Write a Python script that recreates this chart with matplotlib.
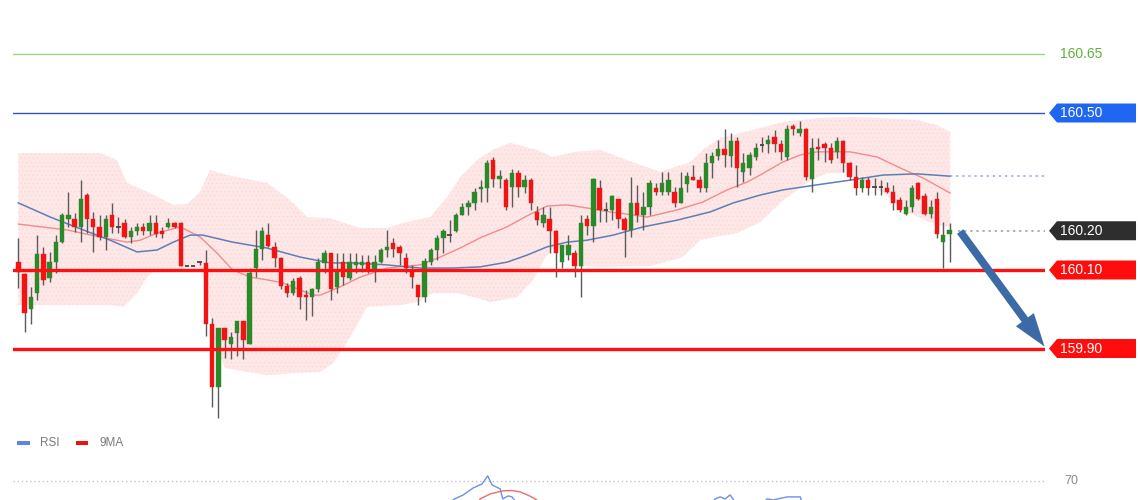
import numpy as np
import matplotlib.pyplot as plt
from matplotlib.patches import Polygon, Rectangle
from matplotlib.transforms import blended_transform_factory

### ======================================================================
### Candle data (one entry per candle)
### ======================================================================

opens = [160.120, 160.090, 160.000, 160.041, 160.141, 160.080, 160.120, 160.171, 160.230, 160.230,
         160.210, 160.291, 160.230, 160.210, 160.184, 160.240, 160.210, 160.220, 160.184, 160.200,
         160.210, 160.200, 160.220, 160.200, 160.210, 160.220, 160.220, 160.110, 160.110, 160.120,
         160.118, 159.962, 159.802, 159.952, 159.911, 159.939, 159.970, 159.911, 160.105, 160.154,
         160.189, 160.159, 160.131, 160.059, 160.041, 160.080, 160.036, 160.031, 160.052, 160.118,
         160.143, 160.057, 160.120, 160.080, 160.113, 160.113, 160.120, 160.100, 160.120, 160.151,
         160.169, 160.159, 160.131, 160.100, 160.062, 160.031, 160.120, 160.151, 160.182, 160.189,
         160.200, 160.240, 160.261, 160.271, 160.307, 160.309, 160.381, 160.332, 160.330, 160.312,
         160.347, 160.312, 160.330, 160.248, 160.220, 160.230, 160.200, 160.120, 160.138, 160.143,
         160.110, 160.230, 160.212, 160.309, 160.253, 160.253, 160.281, 160.230, 160.202, 160.271,
         160.240, 160.261, 160.309, 160.299, 160.299, 160.299, 160.271, 160.319, 160.337, 160.330,
         160.309, 160.373, 160.391, 160.409, 160.391, 160.429, 160.350, 160.360, 160.388, 160.416,
         160.421, 160.439, 160.421, 160.388, 160.467, 160.450, 160.460, 160.332, 160.414, 160.421,
         160.411, 160.401, 160.429, 160.373, 160.337, 160.309, 160.330, 160.312, 160.312, 160.309,
         160.299, 160.279, 160.243, 160.261, 160.322, 160.289, 160.243, 160.281, 160.171, 160.192]
highs = [160.182, 160.092, 160.057, 160.189, 160.159, 160.146, 160.189, 160.245, 160.299, 160.245,
         160.330, 160.296, 160.248, 160.240, 160.240, 160.271, 160.235, 160.230, 160.210, 160.220,
         160.220, 160.240, 160.240, 160.210, 160.233, 160.222, 160.222, 160.110, 160.110, 160.121,
         160.151, 159.978, 159.952, 159.952, 159.942, 159.970, 159.970, 160.105, 160.202, 160.210,
         160.220, 160.171, 160.133, 160.067, 160.080, 160.085, 160.049, 160.054, 160.131, 160.151,
         160.143, 160.143, 160.143, 160.143, 160.143, 160.138, 160.138, 160.138, 160.156, 160.202,
         160.182, 160.164, 160.143, 160.113, 160.062, 160.131, 160.156, 160.189, 160.205, 160.228,
         160.245, 160.271, 160.279, 160.309, 160.330, 160.381, 160.388, 160.355, 160.335, 160.358,
         160.355, 160.342, 160.335, 160.263, 160.261, 160.261, 160.202, 160.164, 160.189, 160.151,
         160.240, 160.240, 160.335, 160.330, 160.273, 160.291, 160.281, 160.235, 160.337, 160.317,
         160.299, 160.330, 160.322, 160.350, 160.350, 160.312, 160.350, 160.350, 160.368, 160.340,
         160.398, 160.401, 160.432, 160.460, 160.450, 160.439, 160.398, 160.401, 160.424, 160.439,
         160.444, 160.457, 160.432, 160.470, 160.472, 160.480, 160.462, 160.437, 160.437, 160.427,
         160.424, 160.439, 160.432, 160.376, 160.368, 160.337, 160.337, 160.335, 160.330, 160.324,
         160.317, 160.286, 160.279, 160.317, 160.324, 160.296, 160.279, 160.299, 160.222, 160.220]
lows = [160.054, 159.942, 159.962, 160.023, 160.062, 160.069, 160.092, 160.169, 160.210, 160.197,
        160.171, 160.194, 160.146, 160.177, 160.151, 160.194, 160.194, 160.182, 160.169, 160.189,
        160.189, 160.189, 160.184, 160.182, 160.207, 160.207, 160.110, 160.110, 160.110, 160.112,
        159.932, 159.751, 159.722, 159.876, 159.873, 159.881, 159.873, 159.911, 160.082, 160.126,
        160.159, 160.108, 160.052, 160.031, 160.036, 160.000, 159.972, 159.983, 160.044, 160.092,
        160.023, 160.041, 160.062, 160.074, 160.092, 160.095, 160.092, 160.069, 160.118, 160.133,
        160.133, 160.113, 160.092, 160.054, 160.011, 160.018, 160.113, 160.126, 160.143, 160.171,
        160.197, 160.240, 160.240, 160.253, 160.273, 160.273, 160.312, 160.309, 160.253, 160.261,
        160.286, 160.296, 160.253, 160.215, 160.210, 160.143, 160.082, 160.105, 160.126, 160.082,
        160.031, 160.189, 160.171, 160.222, 160.222, 160.228, 160.207, 160.133, 160.184, 160.222,
        160.202, 160.240, 160.291, 160.291, 160.291, 160.261, 160.271, 160.299, 160.330, 160.299,
        160.299, 160.335, 160.381, 160.363, 160.363, 160.312, 160.324, 160.342, 160.381, 160.401,
        160.398, 160.401, 160.381, 160.381, 160.444, 160.442, 160.330, 160.299, 160.381, 160.376,
        160.373, 160.386, 160.350, 160.330, 160.291, 160.299, 160.291, 160.291, 160.291, 160.296,
        160.253, 160.248, 160.240, 160.248, 160.279, 160.240, 160.233, 160.182, 160.105, 160.120]
closes = [160.095, 159.990, 160.031, 160.141, 160.074, 160.120, 160.171, 160.240, 160.240, 160.210,
          160.281, 160.230, 160.210, 160.184, 160.230, 160.210, 160.209, 160.184, 160.200, 160.210,
          160.200, 160.220, 160.192, 160.192, 160.220, 160.210, 160.110, 160.110, 160.110, 160.120,
          159.962, 159.802, 159.952, 159.921, 159.929, 159.970, 159.921, 160.092, 160.154, 160.200,
          160.161, 160.131, 160.059, 160.041, 160.072, 160.031, 160.031, 160.052, 160.120, 160.143,
          160.052, 160.100, 160.082, 160.120, 160.120, 160.120, 160.100, 160.120, 160.151, 160.159,
          160.154, 160.143, 160.105, 160.082, 160.031, 160.123, 160.151, 160.182, 160.200, 160.187,
          160.240, 160.261, 160.271, 160.299, 160.312, 160.373, 160.332, 160.340, 160.261, 160.347,
          160.312, 160.330, 160.271, 160.228, 160.240, 160.200, 160.143, 160.164, 160.164, 160.110,
          160.220, 160.212, 160.332, 160.253, 160.251, 160.289, 160.230, 160.202, 160.271, 160.240,
          160.261, 160.322, 160.299, 160.322, 160.330, 160.271, 160.309, 160.340, 160.330, 160.309,
          160.373, 160.391, 160.409, 160.393, 160.429, 160.360, 160.373, 160.393, 160.411, 160.419,
          160.432, 160.421, 160.401, 160.460, 160.460, 160.460, 160.337, 160.411, 160.409, 160.411,
          160.381, 160.429, 160.373, 160.337, 160.309, 160.330, 160.309, 160.309, 160.309, 160.299,
          160.271, 160.253, 160.261, 160.309, 160.281, 160.243, 160.261, 160.192, 160.189, 160.202]

### Bollinger band edges and the two moving averages, read at candle positions
upper_idx = [0, 13.1, 15.8, 17.4, 21.1, 24.8, 27.0, 29.1, 30.7, 33.4, 39.8, 43.5, 46.2, 49.9,
             54.7, 59.0, 61.5, 65.9, 68.6, 70.7, 73.4, 75.9, 78.7, 83.0, 85.5, 89.1, 93.1, 97.4,
             102.7, 107.5, 109.9, 112.3, 115.5, 118.7, 122.3, 127.8, 133.1, 138.4, 143.8, 147.0, 149.1]
upper_band = [160.398, 160.398, 160.380, 160.322, 160.296, 160.266, 160.268, 160.299, 160.355,
              160.342, 160.322, 160.278, 160.235, 160.232, 160.207, 160.207, 160.220, 160.235,
              160.286, 160.337, 160.380, 160.406, 160.424, 160.406, 160.388, 160.401, 160.406,
              160.380, 160.350, 160.375, 160.411, 160.436, 160.449, 160.462, 160.477, 160.487,
              160.490, 160.487, 160.482, 160.469, 160.452]
lower_idx = [0, 14.7, 16.8, 19.0, 20.6, 21.9, 29.1, 30.2, 31.2, 33.1, 39.8, 45.1, 48.3, 50.4,
             53.1, 55.8, 61.1, 63.8, 66.4, 70.2, 73.4, 75.5, 79.8, 82.4, 84.3, 85.5, 89.1, 90.4,
             93.1, 101.1, 106.3, 109.1, 112.3, 115.0, 118.7, 122.4, 126.7, 129.4, 132.6, 134.7,
             138.4, 142.2, 145.8, 149.1]
lower_band = [160.011, 160.011, 160.006, 160.041, 160.082, 160.100, 160.105, 160.049, 159.922,
              159.850, 159.832, 159.838, 159.840, 159.863, 159.929, 160.006, 160.011, 160.018,
              160.041, 160.041, 160.029, 160.018, 160.031, 160.075, 160.131, 160.156, 160.151,
              160.110, 160.108, 160.110, 160.133, 160.176, 160.187, 160.194, 160.222, 160.278,
              160.327, 160.347, 160.347, 160.332, 160.296, 160.248, 160.222, 160.207]
red_ma_idx = [0, 7.8, 13.1, 17.4, 19.5, 22.2, 25.9, 29.1, 31.8, 34.3, 37.1, 39.8, 42.4, 45.1,
              47.2, 48.3, 51.5, 54.7, 59.0, 64.3, 67.5, 70.7, 73.9, 78.2, 81.4, 84.6, 87.8, 91.0,
              94.7, 98.4, 100.6, 105.4, 109.5, 113.4, 116.6, 118.7, 122.3, 125.1, 127.8, 133.1,
              137.4, 141.1, 144.8, 149.1]
red_ma = [160.217, 160.202, 160.184, 160.171, 160.176, 160.194, 160.210, 160.184, 160.143, 160.100,
          160.082, 160.075, 160.067, 160.049, 160.036, 160.036, 160.057, 160.082, 160.105, 160.113,
          160.133, 160.156, 160.182, 160.210, 160.238, 160.263, 160.266, 160.258, 160.248, 160.240,
          160.235, 160.253, 160.273, 160.304, 160.324, 160.342, 160.375, 160.393, 160.401, 160.401,
          160.388, 160.360, 160.334, 160.296]
blue_ma_idx = [0, 5.1, 10.4, 14.7, 19.0, 22.2, 24.8, 27.5, 29.5, 34.3, 39.8, 45.1, 49.9, 53.6,
               59.0, 64.3, 69.6, 73.9, 78.2, 81.4, 84.6, 87.8, 91.0, 95.2, 100.0, 105.4, 110.7,
               114.4, 118.7, 122.3, 127.8, 133.1, 138.4, 143.8, 149.1]
blue_ma = [160.271, 160.235, 160.202, 160.176, 160.146, 160.151, 160.171, 160.189, 160.189, 160.171,
           160.156, 160.133, 160.118, 160.118, 160.113, 160.105, 160.105, 160.108, 160.120, 160.138,
           160.159, 160.171, 160.176, 160.189, 160.210, 160.227, 160.248, 160.271, 160.291, 160.304,
           160.317, 160.329, 160.342, 160.345, 160.339]

### RSI panel (only its top edge shows)
rsi_idx = [0, 30, 60, 67.5, 69.8, 71.2, 72.8, 74.2, 75.1, 75.8, 77.1, 77.5, 78.4, 79.0, 79.6,
           81.0, 95, 109.9, 111.5, 112.3, 113.1, 113.9, 114.5, 116.0, 119.0, 119.8, 120.8,
           123.0, 125.1, 125.4, 126.7, 140, 149]
rsi = [45, 30, 48, 55, 60.8, 62.8, 66.3, 68.3, 72.3, 67.8, 65.8, 60.8, 62.3, 61.8, 59.3,
       52, 48, 55, 60.8, 61.8, 60.8, 62.8, 60.0, 56, 58, 60.8, 60.3, 61.8, 61.8, 59, 54, 40, 35]
rsi_ma_idx = [60, 73.6, 73.9, 75.5, 77.5, 79.0, 80.3, 81.8, 82.7, 83.5, 100, 149]
rsi_ma = [45, 59.3, 60.8, 63.3, 64.8, 65.0, 64.3, 62.3, 60.8, 59.0, 50, 45]

### Levels marked on the right
levels = [160.65, 160.50, 160.20, 160.10, 159.90]
level_labels = ['160.65', '160.50', '160.20', '160.10', '159.90']
last_price = 160.20
target_price = 159.90

### ======================================================================
### Figure and axes
### ======================================================================

fig = plt.figure(figsize=(11.4, 5.0), dpi=100)
fig.patch.set_facecolor('white')

ax = fig.add_axes([13/1140, 70/500, 1032/1140, 430/500])
ax.set_xlim(-0.85, 164.27)
ax.set_ylim(159.6924, 160.7879)
ax.axis('off')

lab_font = 'Liberation Sans'

# bollinger band, with a faint dotted texture like the original
band_x = np.r_[upper_idx, lower_idx[::-1]]
band_y = np.r_[upper_band, lower_band[::-1]]
ax.fill(band_x, band_y, facecolor='#fee7e7', edgecolor='none', zorder=1)
plt.rcParams['hatch.linewidth'] = 0.4
ax.fill(band_x, band_y, facecolor='none', edgecolor='#fad6d6', hatch='....', lw=0, zorder=1)

ax.plot(red_ma_idx, red_ma, color='#f28b8b', lw=1.0, zorder=2)
ax.plot(blue_ma_idx, blue_ma, color='#5d7fb8', lw=1.1, zorder=2)

### levels
ax.axhline(160.65, color='#93d46e', lw=0.9, zorder=2)
ax.axhline(160.50, color='#2f55b5', lw=1.0, zorder=2)
ax.axhline(160.10, color='#ff1010', lw=2.4, zorder=4)
ax.axhline(159.90, color='#ff1010', lw=2.4, zorder=4)
ax.plot([150.4, 164.27], [last_price, last_price], ls=(0, (1.5, 2.5)), color='#9a9a9a', lw=1.1, zorder=2)
ax.plot([blue_ma_idx[-1], 164.27], [blue_ma[-1], blue_ma[-1]], ls=(0, (1.5, 2.5)),
        color='#93a9d6', lw=1.1, zorder=2)

### candles
xs = np.arange(len(opens))
ax.vlines(xs, lows, highs, color='#5a5a5a', lw=1.0, zorder=3)
for i in range(len(opens)):
    o, c = opens[i], closes[i]
    if abs(c - o) < 0.0035:
        ax.hlines((o + c) / 2, i - 0.35, i + 0.35, color='#444444', lw=1.3, zorder=3)
        continue
    col = '#2a8a2a' if c > o else '#f21414'
    ax.bar(i, abs(c - o), bottom=min(o, c), width=0.7, color=col,
           edgecolor=col, lw=0.3, zorder=3)

### arrow
ax.annotate('', xy=(164.2, target_price + 0.005), xytext=(150.7, last_price - 0.002),
            arrowprops=dict(arrowstyle='simple,head_length=1.2,head_width=0.8,tail_width=0.28',
                            mutation_scale=20, fc='#3c6aa6', ec='none', shrinkA=0, shrinkB=0),
            annotation_clip=False, zorder=6)

### price tags
trans = blended_transform_factory(ax.transAxes, ax.transData)
half = 9.5 / 392.5
tag_colors = [None, '#1f66f2', '#2e2e2e', '#ff0d0d', '#ff0d0d']
for lev, lab, col in zip(levels, level_labels, tag_colors):
    if col is None:
        ax.text(1.0145, lev, lab, transform=trans, ha='left', va='center',
                color='#62b03c', fontsize=10, family=lab_font, clip_on=False)
        continue
    tag = Polygon([(1.0039, lev), (1.0116, lev + half), (1.0882, lev + half),
                   (1.0882, lev - half), (1.0116, lev - half)], closed=True,
                  transform=trans, facecolor=col, edgecolor='none', clip_on=False, zorder=5)
    ax.add_patch(tag)
    ax.text(1.0145, lev, lab, transform=trans, ha='left', va='center',
            color='white', fontsize=10, family=lab_font, clip_on=False, zorder=6)

### ======================================================================
### RSI panel at the bottom
### ======================================================================

rax = fig.add_axes([13/1140, 0, 1032/1140, 70/500])
rax.set_xlim(-0.85, 164.27)
rax.set_ylim(60.25, 95.25)
rax.axis('off')

rax.axhline(70, color='#c4c4c4', lw=1.0, ls=(0, (1, 2)))
rax.text(1.019, 70, '70', transform=blended_transform_factory(rax.transAxes, rax.transData),
         ha='left', va='center', color='#8a8a8a', fontsize=9, family=lab_font, clip_on=False)
rax.plot(rsi_idx, rsi, color='#6d90e6', lw=1.0)
rax.plot(rsi_ma_idx, rsi_ma, color='#f06a6a', lw=1.0)

rax.add_patch(Rectangle((0.004, 0.79), 0.012, 0.055, transform=rax.transAxes,
                        facecolor='#5b86e5', edgecolor='none', clip_on=False))
rax.text(0.026, 0.815, 'RSI', transform=rax.transAxes, ha='left', va='center',
         color='#7a7a7a', fontsize=8.5, family=lab_font)
rax.add_patch(Rectangle((0.061, 0.79), 0.012, 0.055, transform=rax.transAxes,
                        facecolor='#ee1111', edgecolor='none', clip_on=False))
rax.text(0.084, 0.815, '9MA', transform=rax.transAxes, ha='left', va='center',
         color='#7a7a7a', fontsize=8.5, family=lab_font)

plt.savefig('out.png', dpi=100)
